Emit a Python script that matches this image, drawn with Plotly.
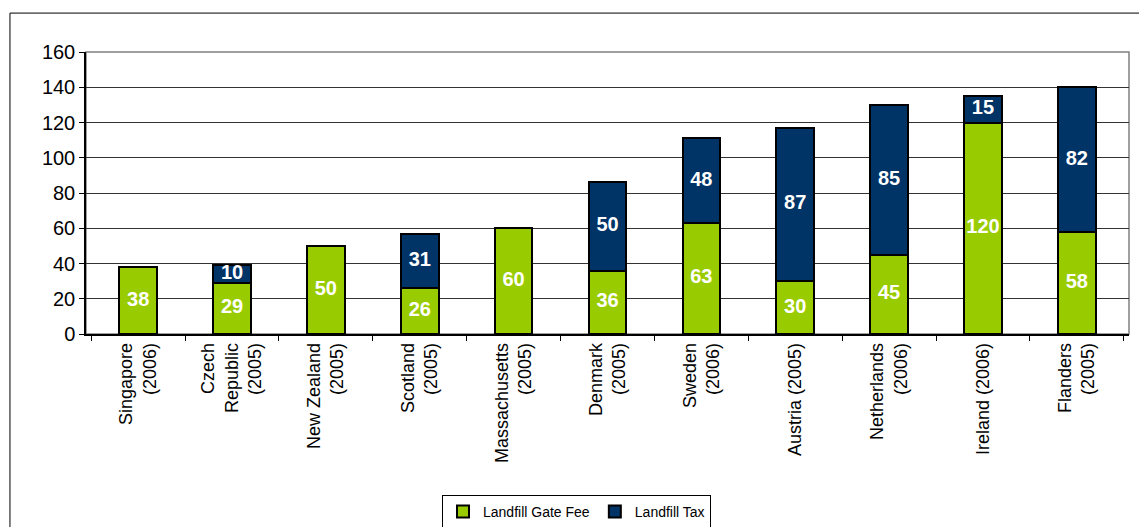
import plotly.graph_objects as go

categories = ["Singapore<br>(2006)", "Czech<br>Republic<br>(2005)", "New Zealand<br>(2005)",
              "Scotland<br>(2005)", "Massachusetts<br>(2005)", "Denmark<br>(2005)",
              "Sweden<br>(2006)", "Austria (2005)", "Netherlands<br>(2006)",
              "Ireland (2006)", "Flanders<br>(2005)"]
gate_fee = [38, 29, 50, 26, 60, 36, 63, 30, 45, 120, 58]
landfill_tax = [None, 10, None, 31, None, 50, 48, 87, 85, 15, 82]
y_ticks = [0, 20, 40, 60, 80, 100, 120, 140, 160]

FONT = "Arial, Liberation Sans, sans-serif"
GREEN = "#99CC00"
NAVY = "#003366"

fig = go.Figure()
fig.add_trace(go.Bar(
    x=categories, y=gate_fee, name="Landfill Gate Fee",
    marker=dict(color=GREEN, line=dict(color="black", width=2)),
))
fig.add_trace(go.Bar(
    x=categories, y=landfill_tax, name="Landfill Tax",
    marker=dict(color=NAVY, line=dict(color="black", width=2)),
))

# data labels centred in each segment
fee_mid = [v / 2 for v in gate_fee]
tax_cats = [c for c, t in zip(categories, landfill_tax) if t is not None]
tax_mid = [g + t / 2 for g, t in zip(gate_fee, landfill_tax) if t is not None]
tax_txt = [str(t) for t in landfill_tax if t is not None]
label_font = dict(family=FONT, size=20, color="white", weight="bold")
fig.add_trace(go.Scatter(x=categories, y=fee_mid, text=[str(v) for v in gate_fee],
                         mode="text", textposition="middle center", textfont=label_font,
                         showlegend=False, hoverinfo="skip"))
fig.add_trace(go.Scatter(x=tax_cats, y=tax_mid, text=tax_txt,
                         mode="text", textposition="middle center", textfont=label_font,
                         showlegend=False, hoverinfo="skip"))

fig.update_layout(
    barmode="stack", bargap=0.6,
    width=1139, height=527,
    margin=dict(l=86, r=10, t=52, b=193, autoexpand=False),
    paper_bgcolor="white", plot_bgcolor="white",
    font=dict(family=FONT, color="black"),
    showlegend=True,
    legend=dict(orientation="h", x=442 / 1139, y=1 - 495 / 527, xref="container", yref="container",
                xanchor="left", yanchor="top", traceorder="normal",
                bordercolor="black", borderwidth=1, font=dict(size=14, family=FONT),
                itemwidth=30, tracegroupgap=0),
    shapes=[
        dict(type="rect", xref="paper", yref="paper", x0=-0.0729, x1=1.03, y0=-0.72, y1=1.138,
             line=dict(color="black", width=1), fillcolor="rgba(0,0,0,0)", layer="below"),
        dict(type="rect", xref="paper", yref="paper", x0=0, x1=1, y0=0, y1=1,
             line=dict(color="#808080", width=1.5), fillcolor="rgba(0,0,0,0)", layer="below"),
    ],
)
fig.update_yaxes(range=[0, 160], tickvals=y_ticks, showgrid=True, gridcolor="#333333", gridwidth=1,
                 showline=True, linecolor="black", linewidth=1.5, ticks="outside", ticklen=5,
                 tickcolor="black", tickfont=dict(size=20, family=FONT), zeroline=False,
                 automargin=False)
fig.update_xaxes(tickangle=-90, showline=True, linecolor="black", linewidth=1.5,
                 ticks="outside", ticklen=5, tickcolor="black", tickson="boundaries",
                 tickfont=dict(size=18, family=FONT), automargin=False)

fig.write_html("out.html", config={"displayModeBar": False},
               post_script="document.body.style.margin='0';")
